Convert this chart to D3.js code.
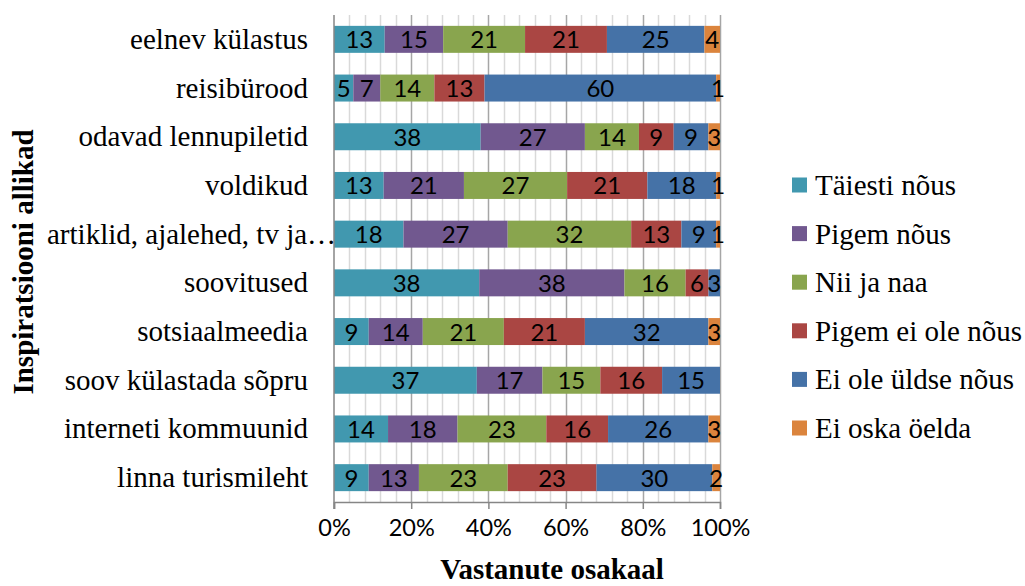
<!DOCTYPE html>
<html>
<head>
<meta charset="utf-8">
<script src="https://cdn.jsdelivr.net/npm/d3@7"></script>
<style>
  html, body { margin: 0; padding: 0; background: #fff; }
  svg { display: block; }
</style>
</head>
<body>
<svg id="chart" width="1025" height="586"></svg>
<script>
// Inspiration sources, top to bottom
const categories = [
  "eelnev külastus",
  "reisibürood",
  "odavad lennupiletid",
  "voldikud",
  "artiklid, ajalehed, tv ja…",
  "soovitused",
  "sotsiaalmeedia",
  "soov külastada sõpru",
  "interneti kommuunid",
  "linna turismileht"
];

// Answer groups (series), in stacking order
const seriesNames = [
  "Täiesti nõus",
  "Pigem nõus",
  "Nii ja naa",
  "Pigem ei ole nõus",
  "Ei ole üldse nõus",
  "Ei oska öelda"
];

// Percent of respondents per category, one array per series
const taiestiNous   = [13,  5, 38, 13, 18, 38,  9, 37, 14,  9];
const pigemNous     = [15,  7, 27, 21, 27, 38, 14, 17, 18, 13];
const niiJaNaa      = [21, 14, 14, 27, 32, 16, 21, 15, 23, 23];
const pigemEiOle    = [21, 13,  9, 21, 13,  6, 21, 16, 16, 23];
const eiOleYldse    = [25, 60,  9, 18,  9,  3, 32, 15, 26, 30];
const eiOskaOelda   = [ 4,  1,  3,  1,  1,  0,  3,  0,  3,  2];

const xTickValues = [0, 0.2, 0.4, 0.6, 0.8, 1];
const colors = ["#4198AF", "#71588F", "#89A54E", "#AA4643", "#4572A7", "#DB843D"];

const seriesValues = [taiestiNous, pigemNous, niiJaNaa, pigemEiOle, eiOleYldse, eiOskaOelda];
const rows = categories.map((c, i) => {
  const r = { category: c };
  seriesNames.forEach((s, j) => { r[s] = seriesValues[j][i]; });
  return r;
});

const svg = d3.select("#chart");
const plotLeft = 334, plotRight = 720, plotTop = 15, plotBottom = 502;
const sansFont = "Lato, 'Liberation Sans', sans-serif";
const serifFont = "'Liberation Serif', 'Times New Roman', serif";

const x = d3.scaleLinear().domain([0, 1]).range([plotLeft, plotRight]);
const y = d3.scaleBand().domain(categories).range([plotTop, plotBottom])
  .paddingInner(0.446).paddingOuter(0.223);
const color = d3.scaleOrdinal().domain(seriesNames).range(colors);

const stacked = d3.stack().keys(seriesNames).offset(d3.stackOffsetExpand)(rows);

// Gridlines: light minor lines every 4 %, darker major lines every 20 %
const minorTicks = d3.range(1, 25).map(i => i * 0.04).filter(v => Math.abs(v / 0.2 - Math.round(v / 0.2)) > 1e-6);
svg.append("g").selectAll("line").data(minorTicks).join("line")
  .attr("x1", d => Math.round(x(d)) + 0.5).attr("x2", d => Math.round(x(d)) + 0.5)
  .attr("y1", plotTop).attr("y2", plotBottom)
  .attr("stroke", "#d9d9d9").attr("stroke-width", 1.5);
svg.append("g").selectAll("line").data(xTickValues.slice(1)).join("line")
  .attr("x1", d => Math.round(x(d)) + 0.5).attr("x2", d => Math.round(x(d)) + 0.5)
  .attr("y1", plotTop).attr("y2", plotBottom)
  .attr("stroke", "#a6a6a6").attr("stroke-width", 1.5);

// Stacked bars
const layers = svg.append("g").selectAll("g").data(stacked).join("g")
  .attr("fill", d => color(d.key));
layers.selectAll("rect").data(d => d).join("rect")
  .attr("x", d => x(d[0]))
  .attr("y", d => y(d.data.category))
  .attr("width", d => Math.max(0, x(d[1]) - x(d[0])))
  .attr("height", y.bandwidth());

// Value labels centred on each segment
const labelLayers = svg.append("g").selectAll("g").data(stacked).join("g");
labelLayers.selectAll("text")
  .data(d => d.map(seg => ({ seg, key: d.key })).filter(o => o.seg.data[o.key] > 0))
  .join("text")
  .attr("x", o => (x(o.seg[0]) + x(o.seg[1])) / 2)
  .attr("y", o => y(o.seg.data.category) + y.bandwidth() / 2 + 9)
  .attr("text-anchor", "middle")
  .attr("font-family", sansFont)
  .attr("font-size", 24)
  .attr("fill", "#000")
  .text(o => o.seg.data[o.key]);

// Bottom axis
const xAxis = d3.axisBottom(x).tickValues(xTickValues).tickFormat(d3.format(".0%"))
  .tickSize(7).tickPadding(10);
const gx = svg.append("g").attr("transform", `translate(0,${plotBottom})`).call(xAxis);
gx.select(".domain").attr("stroke", "#868686").attr("stroke-width", 1.5);
gx.selectAll(".tick line").attr("stroke", "#868686").attr("stroke-width", 1.5);
gx.selectAll(".tick text")
  .attr("font-family", sansFont)
  .attr("font-size", 23.5).attr("fill", "#000");

// Left axis line
const yAxis = d3.axisLeft(y).tickSize(0).tickFormat("");
const gy = svg.append("g").attr("transform", `translate(${plotLeft},0)`).call(yAxis);
gy.select(".domain").attr("stroke", "#868686").attr("stroke-width", 1.5)
  .attr("d", `M0,${plotTop}V${plotBottom + 7}`);

// Category labels, right-aligned; a long label keeps its left edge in view
const catLabels = svg.append("g").selectAll("text").data(categories).join("text")
  .attr("y", d => y(d) + y.bandwidth() / 2 + 9.5)
  .attr("text-anchor", "end")
  .attr("font-family", serifFont)
  .attr("font-size", 29)
  .attr("fill", "#000")
  .text(d => d);
const labelRight = 308, labelMinLeft = 47;
catLabels.attr("x", function () {
  const w = this.getComputedTextLength();
  return Math.max(labelRight, labelMinLeft + w);
});

// Axis titles
svg.append("text")
  .attr("x", 552).attr("y", 579)
  .attr("text-anchor", "middle")
  .attr("font-family", serifFont)
  .attr("font-weight", "bold").attr("font-size", 29)
  .text("Vastanute osakaal");
svg.append("text")
  .attr("transform", "translate(33,262) rotate(-90)")
  .attr("text-anchor", "middle")
  .attr("font-family", serifFont)
  .attr("font-weight", "bold").attr("font-size", 29)
  .text("Inspiratsiooni allikad");

// Legend
const legend = svg.append("g").attr("transform", "translate(792,0)");
const legendItems = legend.selectAll("g").data(seriesNames).join("g")
  .attr("transform", (d, i) => `translate(0,${185 + i * 48.6})`);
legendItems.append("rect")
  .attr("x", 0).attr("y", -7.5).attr("width", 15).attr("height", 15)
  .attr("fill", d => color(d));
legendItems.append("text")
  .attr("x", 23).attr("y", 10)
  .attr("font-family", serifFont)
  .attr("font-size", 29).attr("fill", "#000")
  .text(d => d);
</script>
</body>
</html>
